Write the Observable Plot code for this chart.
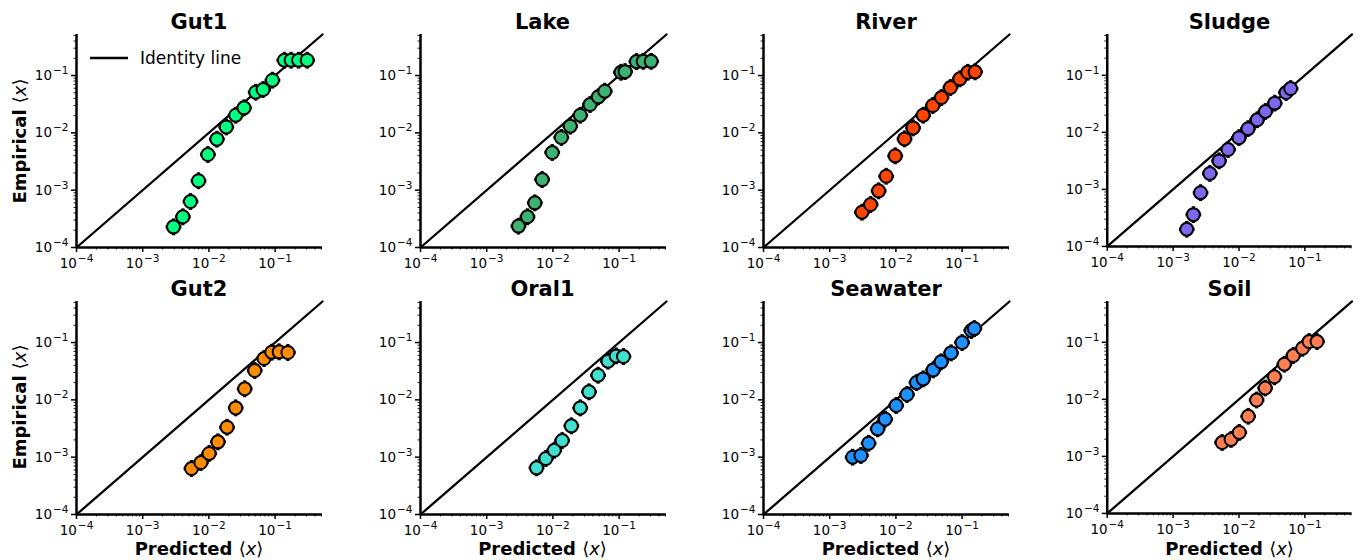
<!DOCTYPE html>
<html><head><meta charset="utf-8">
<script src="https://cdn.jsdelivr.net/npm/d3@7"></script>
<script src="https://cdn.jsdelivr.net/npm/@observablehq/plot@0.6"></script>
<style>
body{margin:0;background:#fff;font-family:"DejaVu Sans",sans-serif;color:#000}
#chart{position:relative;width:1361px;height:560px;overflow:hidden;background:#fff}
.panel{position:absolute}
.title{position:absolute;font-weight:bold;font-size:21px;transform:translate(-50%,-50%);white-space:nowrap}
.xlabel{position:absolute;font-weight:bold;font-size:18px;transform:translate(-50%,-50%);white-space:nowrap}
.ylabel{position:absolute;font-weight:bold;font-size:18px;transform:translate(-50%,-50%) rotate(-90deg);white-space:nowrap}
.math{font-weight:normal}
.legend{position:absolute;font-size:17px;white-space:nowrap;display:flex;align-items:center}
</style>
</head><body>
<div id="chart"></div>
<script>
// ---- data ----
const panelNames = ["Gut1","Lake","River","Sludge","Gut2","Oral1","Seawater","Soil"];
const panelColors = ["#00FF7F","#3CB371","#FF4500","#7B68EE","#FF8C00","#40E0D0","#1E90FF","#FF7F50"];
const axisDomain = [1e-4, 0.52];
const majorTicks = [1e-4, 1e-3, 1e-2, 1e-1];
const minorTicks = [2e-4,3e-4,4e-4,5e-4,6e-4,7e-4,8e-4,9e-4,2e-3,3e-3,4e-3,5e-3,6e-3,7e-3,8e-3,9e-3,2e-2,3e-2,4e-2,5e-2,6e-2,7e-2,8e-2,9e-2,0.2,0.3,0.4,0.5];

const gut1Pred = [0.00292,0.00404,0.00527,0.00697,0.00966,0.0132,0.0183,0.0254,0.0339,0.0509,0.0658,0.0912,0.138,0.1745,0.226,0.305];
const gut1Emp  = [0.000229,0.000343,0.000634,0.00146,0.00419,0.00776,0.0127,0.0203,0.0273,0.0512,0.057,0.083,0.185,0.185,0.185,0.185];
const lakePred = [0.00302,0.00413,0.00533,0.00689,0.00977,0.0134,0.0183,0.0259,0.0364,0.0486,0.0607,0.107,0.123,0.183,0.231,0.305];
const lakeEmp  = [0.000236,0.000343,0.000601,0.00153,0.00454,0.0083,0.0131,0.0203,0.0312,0.0425,0.0533,0.114,0.117,0.175,0.177,0.177];
const riverPred = [0.00307,0.00415,0.00548,0.00714,0.00977,0.0135,0.0182,0.0258,0.0361,0.0488,0.0667,0.0923,0.1217,0.157];
const riverEmp  = [0.000413,0.000562,0.000973,0.00175,0.00397,0.00785,0.0122,0.0203,0.030,0.0413,0.0618,0.0875,0.114,0.116];
const sludgePred = [0.00161,0.00203,0.00261,0.00361,0.00499,0.00682,0.0100,0.0137,0.0189,0.0252,0.0349,0.0518,0.0608];
const sludgeEmp  = [0.000200,0.000361,0.000875,0.0019,0.00316,0.00499,0.00807,0.0116,0.0166,0.0232,0.0325,0.0499,0.0585];
const gut2Pred = [0.00546,0.00757,0.0101,0.0137,0.0188,0.0254,0.0347,0.0492,0.0681,0.0889,0.115,0.156];
const gut2Emp  = [0.000634,0.000807,0.00116,0.00185,0.00333,0.00724,0.0156,0.0325,0.0526,0.0678,0.0688,0.067];
const oral1Pred = [0.00566,0.00783,0.0105,0.0138,0.019,0.0259,0.0351,0.0481,0.0681,0.0902,0.1164];
const oral1Emp  = [0.000652,0.000948,0.00132,0.00195,0.00352,0.00724,0.0138,0.0269,0.0472,0.0585,0.057];
const seawaterPred = [0.00222,0.00296,0.00387,0.0053,0.0069,0.0101,0.0147,0.0205,0.0258,0.0366,0.0482,0.0682,0.100,0.138,0.153];
const seawaterEmp  = [0.00100,0.00107,0.00175,0.00312,0.0046,0.00796,0.0124,0.0200,0.0232,0.0333,0.046,0.066,0.100,0.162,0.175];
const soilPred = [0.00555,0.00757,0.0101,0.0138,0.0185,0.025,0.0345,0.0488,0.0667,0.0923,0.116,0.153];
const soilEmp  = [0.00175,0.00198,0.00263,0.00505,0.00973,0.0158,0.0248,0.0413,0.0585,0.0785,0.103,0.103];

const predicted = [gut1Pred, lakePred, riverPred, sludgePred, gut2Pred, oral1Pred, seawaterPred, soilPred];
const empirical = [gut1Emp, lakeEmp, riverEmp, sludgeEmp, gut2Emp, oral1Emp, seawaterEmp, soilEmp];

// ---- layout ----
const colLeft = [76, 419.5, 763, 1106.5];
const rowTop = [34.3, 300.7];
const plotW = 246, plotH = 213;
const mL = 50, mR = 10, mT = 6, mB = 28;
const EX = 1.28, EY = 1.36, CX = 1.06, CY = 1.07;

const supMap = {"⁻":"−","⁰":"0","¹":"1","²":"2","³":"3","⁴":"4","⁵":"5","⁶":"6","⁷":"7","⁸":"8","⁹":"9"};
const supDigits = "⁰¹²³⁴⁵⁶⁷⁸⁹";
const sup = d => {
  const e = Math.round(Math.log10(d));
  return "10" + String(e).replace("-", "⁻").replace(/\d/g, c => supDigits[+c]);
};

// turn "10⁻⁴" labels into 10 + raised smaller exponent
function fixLabels(svg) {
  svg.querySelectorAll("text").forEach(t => {
    const s = t.textContent;
    if (/^10[⁻⁰¹²³⁴⁵⁶⁷⁸⁹]+$/.test(s)) {
      const exp = s.slice(2).split("").map(c => supMap[c]).join("");
      while (t.firstChild) t.removeChild(t.firstChild);
      t.setAttribute("font-size", "13.5px");
      t.style.fontSize = "13.5px";
      t.appendChild(document.createTextNode("10"));
      const ts = document.createElementNS("http://www.w3.org/2000/svg", "tspan");
      ts.setAttribute("dy", "-6px");
      ts.setAttribute("dx", "1px");
      ts.setAttribute("font-size", "10.5px");
      ts.style.fontSize = "10.5px";
      ts.textContent = exp;
      t.appendChild(ts);
    }
  });
}

const chart = document.getElementById("chart");

panelNames.forEach((name, i) => {
  const col = i % 4, row = Math.floor(i / 4);
  const data = predicted[i].map((x, j) => ({x, y: empirical[i][j]}));
  const color = panelColors[i];
  const ident = axisDomain.map(v => ({x: v, y: v}));
  const plot = Plot.plot({
    width: mL + plotW + mR,
    height: mT + plotH + mB,
    marginLeft: mL, marginRight: mR, marginTop: mT, marginBottom: mB,
    x: {type: "log", domain: axisDomain},
    y: {type: "log", domain: axisDomain},
    style: {fontFamily: "DejaVu Sans", fontSize: "13.5px", color: "#000", background: "transparent", overflow: "visible"},
    marks: [
      Plot.axisX({ticks: minorTicks, tickSize: 2.5, tickFormat: () => "", label: null, strokeWidth: 0.9}),
      Plot.axisY({ticks: minorTicks, tickSize: 2.5, tickFormat: () => "", label: null, strokeWidth: 0.9}),
      Plot.axisX({ticks: majorTicks, tickSize: 5, tickPadding: 6, tickFormat: sup, label: null, strokeWidth: 1.5, fontSize: 13.5}),
      Plot.axisY({ticks: majorTicks, tickSize: 5, tickPadding: 3, tickFormat: sup, label: null, strokeWidth: 1.5, fontSize: 13.5}),
      Plot.line(ident, {x: "x", y: "y", stroke: "#000", strokeWidth: 2.3}),
      Plot.ruleX(data, {x: "x", y1: d => d.y / EY, y2: d => d.y * EY, stroke: "#000", strokeWidth: 1.5}),
      Plot.ruleY(data, {y: "y", x1: d => d.x / EX, x2: d => d.x * EX, stroke: "#000", strokeWidth: 1.5}),
      Plot.link(data, {x1: d => d.x / CX, x2: d => d.x * CX, y1: d => d.y * EY, y2: d => d.y * EY, stroke: "#000", strokeWidth: 1.5}),
      Plot.link(data, {x1: d => d.x / CX, x2: d => d.x * CX, y1: d => d.y / EY, y2: d => d.y / EY, stroke: "#000", strokeWidth: 1.5}),
      Plot.link(data, {x1: d => d.x * EX, x2: d => d.x * EX, y1: d => d.y / CY, y2: d => d.y * CY, stroke: "#000", strokeWidth: 1.5}),
      Plot.link(data, {x1: d => d.x / EX, x2: d => d.x / EX, y1: d => d.y / CY, y2: d => d.y * CY, stroke: "#000", strokeWidth: 1.5}),
      Plot.dot(data, {x: "x", y: "y", r: 6.5, fill: color, stroke: "#000", strokeWidth: 2}),
      Plot.ruleX([axisDomain[0]], {stroke: "#000", strokeWidth: 2.5}),
      Plot.ruleY([axisDomain[0]], {stroke: "#000", strokeWidth: 2.5})
    ]
  });
  fixLabels(plot);
  const div = document.createElement("div");
  div.className = "panel";
  div.style.left = (colLeft[col] - mL) + "px";
  div.style.top = (rowTop[row] - mT) + "px";
  div.appendChild(plot);
  chart.appendChild(div);

  const t = document.createElement("div");
  t.className = "title";
  t.textContent = name;
  t.style.left = (colLeft[col] + plotW / 2) + "px";
  t.style.top = (rowTop[row] - 12) + "px";
  chart.appendChild(t);

  if (col === 0) {
    const yl = document.createElement("div");
    yl.className = "ylabel";
    yl.innerHTML = 'Empirical <span class="math">⟨<i>x</i>⟩</span>';
    yl.style.left = "19px";
    yl.style.top = (rowTop[row] + plotH / 2) + "px";
    chart.appendChild(yl);
  }
  if (row === 1) {
    const xl = document.createElement("div");
    xl.className = "xlabel";
    xl.innerHTML = 'Predicted <span class="math">⟨<i>x</i>⟩</span>';
    xl.style.left = (colLeft[col] + plotW / 2) + "px";
    xl.style.top = "548px";
    chart.appendChild(xl);
  }
});

// legend in first panel
const lg = document.createElement("div");
lg.className = "legend";
lg.style.left = "90px";
lg.style.top = "47px";
lg.innerHTML = '<svg width="38" height="22"><line x1="0" x2="38" y1="11" y2="11" stroke="#000" stroke-width="2.5"/></svg><span style="margin-left:12px">Identity line</span>';
chart.appendChild(lg);
</script>
</body></html>
